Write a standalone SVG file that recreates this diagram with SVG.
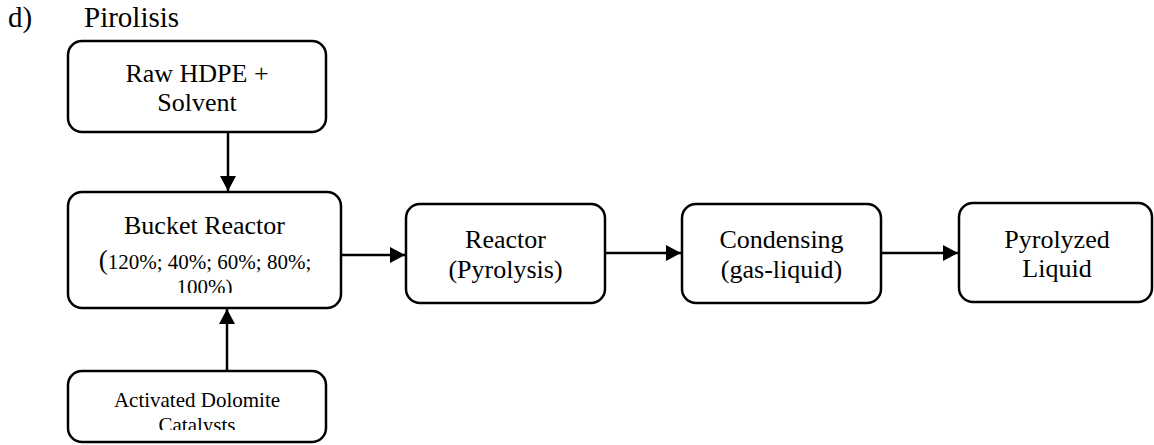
<svg xmlns="http://www.w3.org/2000/svg" width="1154" height="445" viewBox="0 0 1154 445">
  <style>
    .box { fill: #ffffff; stroke: #000000; stroke-width: 2.5; }
    .t { font-family: "Liberation Serif", "Times New Roman", serif; fill: #000000; text-anchor: middle; }
    .big { font-size: 26px; }
    .small { font-size: 21px; }
    .title { font-family: "Liberation Serif", "Times New Roman", serif; font-size: 29px; fill: #000000; }
    .conn { stroke: #000000; stroke-width: 2.5; fill: none; marker-end: url(#arrow); }
  </style>
  <defs>
    <marker id="arrow" markerUnits="userSpaceOnUse" markerWidth="16" markerHeight="16" viewBox="0 0 16 16" refX="15" refY="8" orient="auto">
      <path d="M0,0 L15,8 L0,16 Z" fill="#000000"/>
    </marker>
    <clipPath id="clipBucket"><rect x="68" y="192" width="273" height="101"/></clipPath>
    <clipPath id="clipCat"><rect x="68" y="371" width="258" height="59"/></clipPath>
  </defs>

  <text class="title" x="8" y="27">d)</text>
  <text class="title" x="84" y="27">Pirolisis</text>

  <g id="node-raw">
    <rect class="box" x="68" y="41" width="258" height="91" rx="14"/>
    <text class="t big" x="197" y="82">Raw HDPE +</text>
    <text class="t big" x="197" y="111">Solvent</text>
  </g>

  <g id="node-bucket">
    <rect class="box" x="68" y="192" width="273" height="116" rx="14"/>
    <text class="t big" x="204.5" y="234">Bucket Reactor</text>
    <g clip-path="url(#clipBucket)">
      <text class="t small" x="205" y="269"><tspan font-size="27">(</tspan>120%; 40%; 60%; 80%;</text>
      <text class="t small" x="204.5" y="294">100%)</text>
    </g>
  </g>

  <g id="node-catalyst">
    <rect class="box" x="68" y="371" width="258" height="71" rx="14"/>
    <g clip-path="url(#clipCat)">
      <text class="t small" x="197" y="407">Activated Dolomite</text>
      <text class="t small" x="197" y="432">Catalysts</text>
    </g>
  </g>

  <g id="node-reactor">
    <rect class="box" x="406" y="204" width="199" height="99" rx="14"/>
    <text class="t big" x="505.5" y="248">Reactor</text>
    <text class="t big" x="505.5" y="278">(Pyrolysis)</text>
  </g>

  <g id="node-condensing">
    <rect class="box" x="682" y="204" width="199" height="99" rx="14"/>
    <text class="t big" x="781.5" y="248">Condensing</text>
    <text class="t big" x="781.5" y="278">(gas-liquid)</text>
  </g>

  <g id="node-pyrolyzed">
    <rect class="box" x="959" y="203" width="193" height="99" rx="14"/>
    <text class="t big" x="1057" y="248">Pyrolyzed</text>
    <text class="t big" x="1057" y="277">Liquid</text>
  </g>

  <g id="connectors">
    <line class="conn" x1="228" y1="133" x2="228" y2="191"/>
    <line class="conn" x1="227" y1="371" x2="227" y2="309"/>
    <line class="conn" x1="341" y1="255" x2="405" y2="255"/>
    <line class="conn" x1="605" y1="253" x2="681" y2="253"/>
    <line class="conn" x1="881" y1="253" x2="958" y2="253"/>
  </g>
</svg>
